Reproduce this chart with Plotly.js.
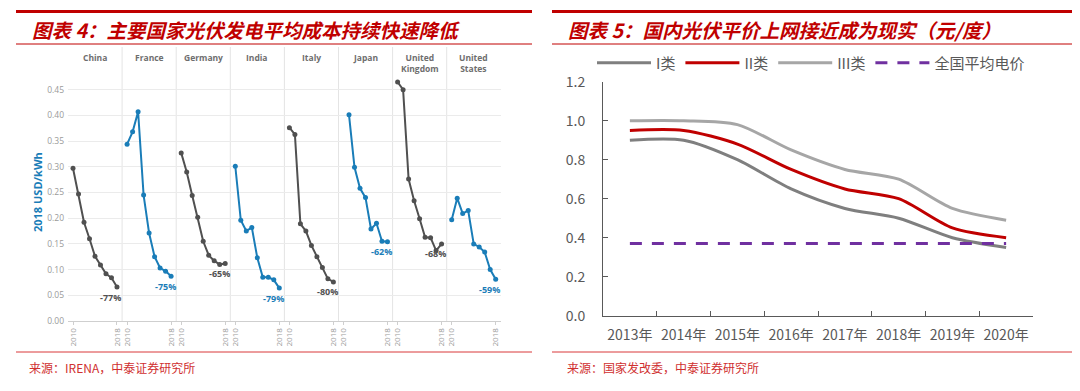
<!DOCTYPE html>
<html><head><meta charset="utf-8">
<script src="https://cdn.plot.ly/plotly-3.0.1.min.js"></script>
<style>html,body{margin:0;padding:0;background:#fff}#chart{width:1080px;height:391px}</style>
</head><body><div id="chart"></div>
<script>
// ---------- Left chart data (IRENA, 2018 USD/kWh) ----------
const panelNames = ['China','France','Germany','India','Italy','Japan','United<br>Kingdom','United<br>States'];
const years = [2010,2011,2012,2013,2014,2015,2016,2017,2018];
const yearsJapan = [2011,2012,2013,2014,2015,2016,2017,2018];
const china   = [0.297,0.247,0.192,0.160,0.126,0.109,0.092,0.084,0.066];
const france  = [0.344,0.368,0.407,0.245,0.171,0.125,0.103,0.097,0.087];
const germany = [0.327,0.290,0.244,0.202,0.155,0.128,0.117,0.110,0.112];
const india   = [0.301,0.196,0.175,0.182,0.123,0.085,0.085,0.080,0.064];
const italy   = [0.376,0.363,0.189,0.175,0.147,0.125,0.104,0.082,0.076];
const japan   = [0.401,0.299,0.258,0.240,0.179,0.190,0.155,0.154];
const uk      = [0.465,0.450,0.276,0.234,0.199,0.163,0.162,0.137,0.150];
const us      = [0.197,0.239,0.209,0.215,0.150,0.144,0.134,0.100,0.081];
const changeLabels = ['-77%','-75%','-65%','-79%','-80%','-62%','-68%','-59%'];
const leftTickVals = [0,0.05,0.10,0.15,0.20,0.25,0.30,0.35,0.40,0.45];

// ---------- Right chart data (元/度) ----------
const cnYears = ['2013年','2014年','2015年','2016年','2017年','2018年','2019年','2020年'];
const class1 = [0.90,0.90,0.80,0.65,0.55,0.50,0.40,0.35];
const class2 = [0.95,0.95,0.88,0.75,0.65,0.60,0.45,0.40];
const class3 = [1.00,1.00,0.98,0.85,0.75,0.70,0.55,0.49];
const avgPrice = [0.37,0.37,0.37,0.37,0.37,0.37,0.37,0.37];
const seriesNames = ['I类','II类','III类','全国平均电价'];

// ---------- styling ----------
const DARK = '#505050', BLUE = '#1a7db8';
const RED = '#c00000';
const W = 1080, H = 391;
const px = v => v / W, py = v => (H - v) / H;

const panelX = [years, years, years, years, years, yearsJapan, years, years];
const panelY = [china, france, germany, india, italy, japan, uk, us];
const panelColor = [DARK, BLUE, DARK, BLUE, DARK, BLUE, DARK, BLUE];

const leftStart = 68, panelW = 54.1;
const traces = [];
const layout = {
  width: W, height: H, margin: {l:0,r:0,t:0,b:0},
  paper_bgcolor: '#fff', plot_bgcolor: 'rgba(0,0,0,0)',
  showlegend: true,
  font: {family: '"Open Sans", "Noto Sans CJK SC", sans-serif'},
  annotations: [], shapes: []
};

panelY.forEach((vals, i) => {
  const ax = i === 0 ? 'x' : 'x' + (i + 1);
  const axName = i === 0 ? 'xaxis' : 'xaxis' + (i + 1);
  traces.push({
    type: 'scatter', mode: 'lines+markers', x: panelX[i], y: vals,
    xaxis: ax, yaxis: 'y', showlegend: false, hoverinfo: 'skip',
    line: {color: panelColor[i], width: 2}, marker: {color: panelColor[i], size: 5}
  });
  const d0 = leftStart + panelW * i, d1 = d0 + panelW;
  layout[axName] = {
    domain: [px(d0), px(d1)], anchor: 'y', range: [2009.09, 2018.93],
    tickvals: [2010, 2018], ticktext: ['2010', '2018'], tickangle: -90,
    tickfont: {size: 8, color: '#9a9a9a'}, showgrid: false, zeroline: false,
    showline: true, linecolor: '#cfcfcf', linewidth: 1,
    ticks: 'outside', ticklen: 3, tickcolor: '#cfcfcf', fixedrange: true
  };
  layout.annotations.push({
    xref: ax + ' domain', yref: 'paper', x: 0.5, y: py(50), yanchor: 'top',
    text: panelNames[i], showarrow: false,
    font: {size: 8.5, color: '#6e6e6e', weight: 'bold'}
  });
  layout.annotations.push({
    xref: ax, yref: 'y', x: panelX[i][panelX[i].length - 1], y: vals[vals.length - 1],
    xshift: -6, yshift: -10, text: changeLabels[i], showarrow: false,
    font: {size: 9, color: panelColor[i], weight: 'bold'}
  });
  if (i > 0) {
    layout.shapes.push({type: 'line', xref: 'paper', yref: 'paper',
      x0: px(d0), x1: px(d0), y0: py(321), y1: py(47),
      line: {color: '#e4e4e4', width: 1}, layer: 'below'});
  }
});

layout.yaxis = {
  domain: [py(321), py(47)], range: [0, 0.533], anchor: 'x',
  tickvals: leftTickVals, tickformat: '.2f',
  tickfont: {size: 8.5, color: '#9a9a9a'}, gridcolor: '#ebebeb', gridwidth: 1,
  zeroline: false, showline: false, ticks: '', ticklabelstandoff: 3, fixedrange: true
};
layout.annotations.push({
  xref: 'paper', yref: 'paper', x: px(37), xanchor: 'center', y: py(192), textangle: -90,
  text: '2018 USD/kWh', showarrow: false,
  font: {size: 11, color: BLUE, weight: 'bold'}
});

// ---------- Right chart ----------
const rightColors = ['#7f7f7f', RED, '#a6a6a6', '#7030a0'];
[class1, class2, class3].forEach((vals, k) => {
  traces.push({
    type: 'scatter', mode: 'lines', x: cnYears, y: vals, name: seriesNames[k],
    xaxis: 'x9', yaxis: 'y2', hoverinfo: 'skip',
    line: {color: rightColors[k], width: 3, shape: 'spline', smoothing: 0.8}
  });
});
traces.push({
  type: 'scatter', mode: 'lines', x: cnYears, y: avgPrice, name: seriesNames[3],
  xaxis: 'x9', yaxis: 'y2', hoverinfo: 'skip',
  line: {color: rightColors[3], width: 3, dash: '12px,10px'}
});

const cnFont = '"Noto Sans CJK SC", "Liberation Sans", sans-serif';
layout.xaxis9 = {
  domain: [px(603), px(1033)], anchor: 'y2', type: 'category', range: [-0.5, 7.5],
  tickson: 'boundaries', ticks: 'inside', ticklen: 5, tickcolor: '#595959', tickangle: 0,
  showline: true, linecolor: '#595959', linewidth: 1, showgrid: false, zeroline: false,
  tickfont: {family: cnFont, size: 14, color: '#595959'}, ticklabelstandoff: 6, fixedrange: true
};
layout.yaxis2 = {
  domain: [py(315.7), py(81.7)], anchor: 'x9', range: [0, 1.2], dtick: 0.2, tick0: 0,
  tickformat: '.1f', ticks: 'inside', ticklen: 5, tickcolor: '#595959',
  showline: true, linecolor: '#595959', linewidth: 1, showgrid: false, zeroline: false,
  tickfont: {family: cnFont, size: 14, color: '#595959'}, ticklabelstandoff: 14, fixedrange: true
};
layout.legend = {
  orientation: 'h', x: px(592), xanchor: 'left', y: py(63), yanchor: 'middle',
  font: {family: cnFont, size: 15, color: '#595959'}, bgcolor: 'rgba(0,0,0,0)',
  itemwidth: 54, tracegroupgap: 0
};

// ---------- Report frame: titles, rules, sources ----------
[[16, 532], [552, 1072]].forEach(([a, b]) => {
  layout.shapes.push({type:'line', xref:'paper', yref:'paper', x0:px(a), x1:px(b), y0:py(11.5), y1:py(11.5), line:{color:RED, width:3}});
  layout.shapes.push({type:'line', xref:'paper', yref:'paper', x0:px(a), x1:px(b), y0:py(44), y1:py(44), line:{color:RED, width:1}});
  layout.shapes.push({type:'line', xref:'paper', yref:'paper', x0:px(a), x1:px(b), y0:py(352), y1:py(352), line:{color:'#d9393b', width:1}});
});
const titleFont = {family: cnFont, size: 19.5, color: RED, weight: 'bold', style: 'italic'};
layout.annotations.push({xref:'paper', yref:'paper', x:px(30), y:py(29), xanchor:'left', yanchor:'middle',
  text:'图表 4：主要国家光伏发电平均成本持续快速降低', showarrow:false, font:titleFont});
layout.annotations.push({xref:'paper', yref:'paper', x:px(566), y:py(29), xanchor:'left', yanchor:'middle',
  text:'图表 5：国内光伏平价上网接近成为现实（元/度）', showarrow:false, font:titleFont});
const srcFont = {family: cnFont, size: 12, color: '#d03030'};
layout.annotations.push({xref:'paper', yref:'paper', x:px(27), y:py(367), xanchor:'left', yanchor:'middle',
  text:'来源：IRENA，中泰证券研究所', showarrow:false, font:srcFont});
layout.annotations.push({xref:'paper', yref:'paper', x:px(565), y:py(367), xanchor:'left', yanchor:'middle',
  text:'来源：国家发改委，中泰证券研究所', showarrow:false, font:srcFont});

Plotly.newPlot('chart', traces, layout, {staticPlot: true, displayModeBar: false});
</script>
</body></html>
